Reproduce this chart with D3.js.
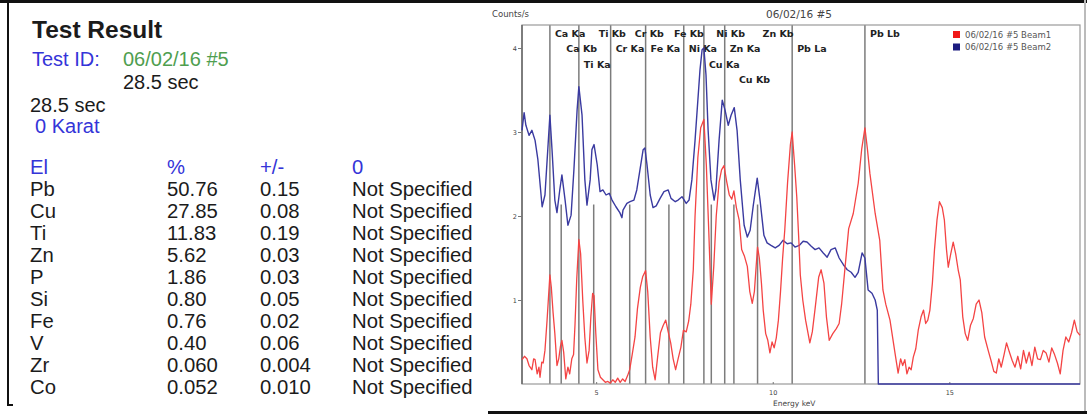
<!DOCTYPE html>
<html>
<head>
<meta charset="utf-8">
<script src="https://cdn.jsdelivr.net/npm/d3@7"></script>
<style>
body{margin:0;background:#fff;}
svg{display:block;}
</style>
</head>
<body>
<svg id="chart"></svg>
<script>
// result table (left panel)
var elements = ['Pb','Cu','Ti','Zn','P','Si','Fe','V','Zr','Co'];
var percent = ['50.76','27.85','11.83','5.62','1.86','0.80','0.76','0.40','0.060','0.052'];
var plusMinus = ['0.15','0.08','0.19','0.03','0.03','0.05','0.02','0.06','0.004','0.010'];
var grade = ['Not Specified','Not Specified','Not Specified','Not Specified','Not Specified',
             'Not Specified','Not Specified','Not Specified','Not Specified','Not Specified'];
var tableHead = ['El','%','+/-','0'];

// peak markers (keV), relative marker height, label stagger level
var peakNames = ['Ca Ka','Ca Kb','Ti Ka','Ti Kb','Cr Ka','Cr Kb','Fe Ka','Fe Kb','Ni Ka','Cu Ka','Ni Kb','Zn Ka','Cu Kb','Zn Kb','Pb La','Pb Lb'];
var peakKev   = [3.69, 4.01, 4.51, 4.93, 5.41, 5.95, 6.40, 7.06, 7.48, 8.05, 8.26, 8.64, 8.90, 9.57, 10.55, 12.61];
var peakRel   = [1, 0.5, 1, 0.5, 1, 0.5, 1, 0.5, 1, 1, 0.5, 1, 0.5, 0.5, 1, 1];
var peakLevel = [0, 1, 2, 0, 1, 0, 1, 0, 1, 2, 0, 1, 3, 0, 1, 0];

// spectrum Beam1 (red)
var beam1Kev = [2.90,2.97,3.04,3.10,3.18,3.23,3.27,3.33,3.38,3.41,3.46,3.50,3.55,3.61,3.66,3.69,3.73,3.78,3.83,3.89,
  3.94,3.99,4.03,4.08,4.14,4.20,4.25,4.31,4.36,4.40,4.45,4.51,4.56,4.62,4.68,4.74,4.80,4.85,4.90,4.94,
  4.99,5.05,5.12,5.19,5.26,5.33,5.40,5.47,5.54,5.61,5.68,5.75,5.82,5.89,5.95,6.02,6.10,6.17,6.25,6.32,
  6.40,6.46,6.53,6.60,6.67,6.74,6.82,6.90,6.97,7.04,7.11,7.18,7.25,7.32,7.40,7.47,7.55,7.62,7.68,7.75,
  7.80,7.88,7.96,8.05,8.12,8.19,8.26,8.33,8.40,8.48,8.55,8.62,8.70,8.77,8.84,8.90,8.97,9.05,9.12,9.20,
  9.28,9.35,9.42,9.48,9.53,9.57,9.62,9.68,9.73,9.80,9.86,9.92,9.98,10.04,10.10,10.16,10.22,10.28,10.34,10.42,
  10.50,10.55,10.62,10.68,10.74,10.78,10.85,10.93,11.05,11.12,11.20,11.30,11.37,11.45,11.52,11.60,11.70,11.80,11.88,11.95,
  12.05,12.15,12.28,12.42,12.52,12.61,12.68,12.75,12.90,13.03,13.12,13.20,13.32,13.45,13.55,13.62,13.68,13.74,13.80,13.86,
  13.92,13.98,14.05,14.12,14.20,14.27,14.33,14.39,14.45,14.52,14.58,14.65,14.72,14.80,14.86,14.92,14.97,15.04,15.11,15.18,
  15.25,15.31,15.38,15.45,15.52,15.60,15.68,15.76,15.84,15.92,16.00,16.10,16.18,16.26,16.33,16.40,16.47,16.55,16.62,16.70,
  16.78,16.86,16.94,17.02,17.10,17.18,17.26,17.34,17.42,17.50,17.58,17.66,17.74,17.82,17.90,17.98,18.06,18.14,18.22,18.30,
  18.38,18.46,18.54,18.62,18.70];
var beam1Cps = [0.29,0.33,0.30,0.22,0.17,0.30,0.29,0.12,0.20,0.08,0.26,0.25,0.40,0.76,1.10,1.30,1.15,0.85,0.60,0.22,
  0.30,0.45,0.52,0.38,0.06,0.20,0.12,0.30,0.35,0.70,1.25,1.72,1.55,1.00,0.55,0.25,0.40,0.80,1.08,1.05,
  0.60,0.17,0.08,0.05,0.02,0.03,0.01,0.05,0.02,0.07,0.02,0.06,0.03,0.10,0.17,0.35,0.56,0.90,1.15,1.28,
  1.35,1.10,0.56,0.20,0.05,0.32,0.61,0.70,0.76,0.62,0.49,0.30,0.17,0.30,0.44,0.64,0.62,0.75,0.95,1.36,
  2.00,2.70,3.05,3.15,2.60,1.80,0.95,1.40,2.00,2.40,2.55,2.60,2.40,2.25,2.20,2.30,2.10,1.95,1.60,1.52,
  1.40,1.10,0.96,1.10,1.40,1.63,1.50,1.20,0.88,0.60,0.52,0.37,0.50,0.43,0.55,0.76,1.10,1.50,1.83,2.40,
  2.85,3.00,2.60,2.23,1.70,1.30,1.00,0.76,0.49,0.62,0.90,1.27,1.36,1.20,0.80,0.52,0.60,0.66,0.72,0.95,
  1.40,1.85,2.03,2.39,2.80,3.05,2.80,2.51,2.03,1.71,1.12,0.95,0.76,0.40,0.13,0.30,0.22,0.29,0.12,0.20,
  0.17,0.32,0.42,0.64,0.80,0.88,0.72,0.76,0.88,1.20,1.60,1.95,2.17,2.10,1.95,1.60,1.39,1.55,1.69,1.55,
  1.36,1.24,0.80,0.60,0.52,0.70,0.78,0.95,1.00,0.85,0.56,0.40,0.28,0.15,0.13,0.30,0.20,0.35,0.49,0.38,
  0.28,0.20,0.33,0.18,0.40,0.25,0.38,0.22,0.44,0.30,0.29,0.40,0.37,0.26,0.43,0.35,0.25,0.12,0.40,0.56,
  0.50,0.61,0.76,0.62,0.58];

// spectrum Beam2 (blue)
var beam2Kev = [2.90,2.96,3.01,3.10,3.18,3.27,3.35,3.47,3.55,3.63,3.69,3.75,3.83,3.89,3.97,4.03,4.12,4.20,4.29,4.37,
  4.46,4.51,4.60,4.68,4.74,4.83,4.88,4.94,5.03,5.11,5.19,5.28,5.37,5.45,5.56,5.67,5.73,5.76,5.87,5.96,
  6.07,6.15,6.24,6.33,6.38,6.44,6.53,6.61,6.70,6.81,6.92,7.04,7.12,7.24,7.32,7.43,7.55,7.63,7.71,7.80,
  7.89,7.94,8.00,8.05,8.11,8.17,8.25,8.34,8.39,8.48,8.57,8.65,8.74,8.82,8.91,8.99,9.08,9.19,9.28,9.36,
  9.45,9.56,9.64,9.75,9.84,9.95,10.07,10.18,10.29,10.41,10.52,10.63,10.75,10.86,10.97,11.09,11.20,11.31,11.43,11.54,
  11.65,11.77,11.88,12.00,12.11,12.22,12.33,12.42,12.53,12.61,12.70,12.81,12.90,12.96,12.99,13.50,14.00,15.00,16.00,17.00,
  18.00,18.70];
var beam2Cps = [3.02,3.23,3.08,2.96,3.02,2.90,2.67,2.11,2.25,2.79,3.20,2.79,2.19,2.04,2.31,2.49,2.19,1.89,2.01,2.55,
  3.26,3.54,3.20,2.43,2.13,2.43,2.79,2.85,2.61,2.29,2.31,2.25,2.27,2.19,2.11,2.04,1.98,2.07,2.15,2.17,
  2.19,2.31,2.55,2.79,2.81,2.61,2.25,2.10,2.12,2.21,2.29,2.31,2.21,2.17,2.19,2.23,2.15,2.19,2.43,2.90,
  3.44,3.74,3.98,4.00,3.68,3.02,2.43,2.19,2.31,2.90,3.38,3.26,3.08,3.20,3.29,3.02,2.43,1.89,1.75,1.83,
  2.13,2.45,2.19,1.77,1.68,1.65,1.62,1.65,1.71,1.67,1.68,1.63,1.65,1.70,1.69,1.64,1.60,1.62,1.56,1.51,
  1.60,1.62,1.50,1.42,1.36,1.33,1.27,1.33,1.56,1.50,1.12,1.08,1.00,0.88,0,0,0,0,0,0,
  0,0];

var xTicks = [5, 10, 15];
var yTicks = [1, 2, 3, 4];

var W = 1087, H = 414;
var svg = d3.select('#chart').attr('width', W).attr('height', H);

// window frame
svg.append('rect').attr('x', 0).attr('y', 0).attr('width', W).attr('height', 3).attr('fill', '#111');
svg.append('rect').attr('x', 7).attr('y', 0).attr('width', 2).attr('height', 405).attr('fill', '#111');
svg.append('rect').attr('x', 7).attr('y', 404).attr('width', 6).attr('height', 2).attr('fill', '#111');
svg.append('rect').attr('x', 488).attr('y', 411).attr('width', W - 488).attr('height', 3).attr('fill', '#111');
svg.append('rect').attr('x', 1084).attr('y', 0).attr('width', 2).attr('height', 411).attr('fill', '#bbb');

// ---- left panel text
var sans = '"Liberation Sans", Arial, sans-serif';
function label(x, yy, s, fill, size, weight) {
    return svg.append('text')
        .attr('x', x).attr('y', yy)
        .attr('fill', fill)
        .style('font-family', sans)
        .style('font-size', size + 'px')
        .style('font-weight', weight || 'normal')
        .text(s);
}
var blue = '#3434d8', green = '#4f9e4f', black = '#1b1b1b';
label(32, 38, 'Test Result', black, 24.5, 'bold');
label(32, 66, 'Test ID:', blue, 20);
label(123, 66, '06/02/16 #5', green, 20);
label(123, 89, '28.5 sec', black, 20);
label(30, 112, '28.5 sec', black, 20);
label(35, 133, '0 Karat', blue, 20);

var colX = [30, 167, 260, 352];
tableHead.forEach(function(h, i){
    label(colX[i], 174, h, blue, 20.3);
});
elements.forEach(function(el, i){
    var yy = 196 + i * 22;
    label(colX[0], yy, el, black, 20.3);
    label(colX[1], yy, percent[i], black, 20.3);
    label(colX[2], yy, plusMinus[i], black, 20.3);
    label(colX[3], yy, grade[i], black, 20.3);
});

// ---- spectrum chart
var plot = {left: 522, right: 1080, top: 25, bottom: 384};
var x = d3.scaleLinear().domain([2.9, 18.7]).range([plot.left, plot.right]);
var y = d3.scaleLinear().domain([0, (plot.bottom - plot.top) / 84]).range([plot.bottom, plot.top]);
var small = '"DejaVu Sans", Verdana, sans-serif';

var chart = svg.append('g');

// peak marker lines
chart.selectAll('line.peak')
    .data(peakKev)
    .enter()
    .append('line')
    .attr('class', 'peak')
    .attr('x1', function(d){ return x(d); })
    .attr('x2', function(d){ return x(d); })
    .attr('y1', function(d, i){ return plot.bottom - (plot.bottom - plot.top) * peakRel[i]; })
    .attr('y2', plot.bottom)
    .attr('stroke', '#7c7c7c')
    .attr('stroke-width', 1.5);

chart.selectAll('text.peak')
    .data(peakNames)
    .enter()
    .append('text')
    .attr('class', 'peak')
    .attr('x', function(d, i){ return x(peakKev[i]) + 5; })
    .attr('y', function(d, i){ return 37 + peakLevel[i] * 15.3; })
    .attr('fill', '#222')
    .style('font-family', small)
    .style('font-size', '9.5px')
    .style('font-weight', 'bold')
    .text(function(d){ return d; });

// frame of plot area
chart.append('rect')
    .attr('x', plot.left).attr('y', plot.top)
    .attr('width', plot.right - plot.left).attr('height', plot.bottom - plot.top)
    .attr('fill', 'none').attr('stroke', '#9a9a9a').attr('stroke-width', 1.2);
chart.append('line')
    .attr('x1', plot.left).attr('x2', plot.left)
    .attr('y1', plot.top).attr('y2', plot.bottom)
    .attr('stroke', '#666').attr('stroke-width', 1.5);

// axes
var xAxis = chart.append('g')
    .attr('transform', 'translate(0,' + plot.bottom + ')')
    .call(d3.axisBottom(x).tickValues(xTicks).tickSize(-2).tickPadding(6).tickFormat(d3.format('d')));
var yAxis = chart.append('g')
    .attr('transform', 'translate(' + plot.left + ',0)')
    .call(d3.axisLeft(y).tickValues(yTicks).tickSize(4).tickPadding(1).tickFormat(d3.format('d')));
[xAxis, yAxis].forEach(function(a){
    a.select('.domain').remove();
    a.selectAll('line').attr('stroke', '#777');
    a.selectAll('text').attr('fill', '#444').style('font-family', small).style('font-size', '6.5px');
});

// spectra
var line = d3.line()
    .x(function(d){ return x(d[0]); })
    .y(function(d){ return y(d[1]); });

chart.append('path')
    .datum(d3.zip(beam2Kev, beam2Cps))
    .attr('d', line)
    .attr('fill', 'none')
    .attr('stroke', '#3a3aa0')
    .attr('stroke-width', 1.4)
    .attr('stroke-linejoin', 'round');

chart.append('path')
    .datum(d3.zip(beam1Kev, beam1Cps))
    .attr('d', line)
    .attr('fill', 'none')
    .attr('stroke', '#f44444')
    .attr('stroke-width', 1.3)
    .attr('stroke-linejoin', 'round');

// titles
chart.append('text').attr('x', 492).attr('y', 17).text('Counts/s')
    .attr('fill', '#444').style('font-family', small).style('font-size', '8.5px');
chart.append('text').attr('x', 799).attr('y', 18).attr('text-anchor', 'middle').text('06/02/16 #5')
    .attr('fill', '#444').style('font-family', small).style('font-size', '10.5px');
chart.append('text').attr('x', 773).attr('y', 406).text('Energy keV')
    .attr('fill', '#444').style('font-family', small).style('font-size', '7.5px');

// legend
var legendNames = ['06/02/16 #5 Beam1', '06/02/16 #5 Beam2'];
var legendColors = ['#f01818', '#1c1c80'];
var legend = chart.selectAll('g.legend')
    .data(legendNames)
    .enter()
    .append('g')
    .attr('class', 'legend')
    .attr('transform', function(d, i){ return 'translate(953,' + (31 + i * 12.5) + ')'; });
legend.append('rect').attr('width', 7).attr('height', 7)
    .attr('fill', function(d, i){ return legendColors[i]; });
legend.append('text').attr('x', 12).attr('y', 6.5)
    .attr('fill', '#555').style('font-family', small).style('font-size', '8.5px')
    .text(function(d){ return d; });
</script>
</body>
</html>
